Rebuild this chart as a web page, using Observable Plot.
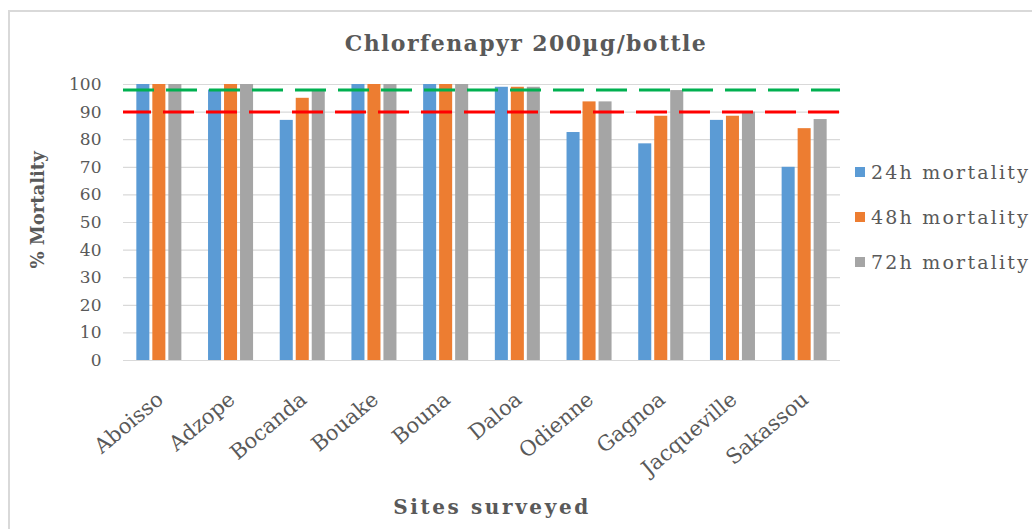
<!DOCTYPE html>
<html>
<head>
<meta charset="utf-8">
<script src="https://cdn.jsdelivr.net/npm/d3@7"></script>
<script src="https://cdn.jsdelivr.net/npm/@observablehq/plot@0.6"></script>
<style>
  html, body { margin: 0; padding: 0; background: #fff; }
  #wrap { position: relative; width: 1032px; height: 529px; overflow: hidden; font-family: "DejaVu Serif", serif; color: #595959; }
  #border { position: absolute; left: 8px; top: 10px; width: 1040px; height: 540px; border: 2px solid #d9d9d9; box-sizing: border-box; }
  #chart { position: absolute; left: 0; top: 0; }
  .abs { position: absolute; white-space: nowrap; }
  #title { left: 0; width: 1052px; top: 30px; text-align: center; font-size: 22px; font-weight: bold; letter-spacing: 1.4px; }
  #xtitle { left: 372px; width: 240px; top: 495px; text-align: center; font-size: 20px; font-weight: bold; letter-spacing: 2.6px; }
  #ytitle { left: 37px; top: 210px; transform: translate(-50%, -50%) rotate(-90deg); font-size: 18px; font-weight: bold; }
  .leg { left: 855px; font-size: 19px; letter-spacing: 2.2px; display: flex; align-items: center; }
  .sw { width: 10px; height: 10px; margin-right: 6px; display: inline-block; }
</style>
</head>
<body>
<div id="wrap">
  <div id="border"></div>
  <div id="chart"></div>
  <div id="title" class="abs">Chlorfenapyr 200µg/bottle</div>
  <div id="xtitle" class="abs">Sites surveyed</div>
  <div id="ytitle" class="abs">% Mortality</div>
  <div id="legend"></div>
</div>
<script>
const sites = ["Aboisso", "Adzope", "Bocanda", "Bouake", "Bouna", "Daloa", "Odienne", "Gagnoa", "Jacqueville", "Sakassou"];
const seriesNames = ["24h mortality", "48h mortality", "72h mortality"];
const mortality24h = [100, 98, 87, 100, 100, 99, 82.6, 78.5, 87, 70];
const mortality48h = [100, 100, 95, 100, 100, 99, 93.7, 88.5, 88.5, 84];
const mortality72h = [100, 100, 98, 100, 100, 99, 93.7, 97.8, 90, 87.3];
const seriesColors = ["#5b9bd5", "#ed7d31", "#a5a5a5"];
const yTicks = [0, 10, 20, 30, 40, 50, 60, 70, 80, 90, 100];
const thresholdGreen = [98];
const thresholdRed = [90];

const seriesValues = [mortality24h, mortality48h, mortality72h];

// each site's band holds the three bars side by side: bar width 13, step 16
const barW = 13, barStep = 16;
const groupW = barW + 2 * barStep; // band width
const barMarks = seriesValues.map((vals, j) =>
  Plot.barY(sites.map((site, i) => ({site, value: vals[i]})), {
    x: "site",
    y: "value",
    fill: seriesColors[j],
    insetLeft: j * barStep,
    insetRight: groupW - j * barStep - barW
  })
);

const chart = Plot.plot({
  width: 1032,
  height: 529,
  marginLeft: 123,
  marginRight: 192,
  marginTop: 84,
  marginBottom: 169,
  style: {fontFamily: "DejaVu Serif", fontSize: "17px", color: "#595959", background: "transparent", overflow: "visible"},
  x: {domain: sites, paddingInner: 0.372, paddingOuter: 0.186, round: false, label: null},
  y: {domain: [0, 100], label: null},
  marks: [
    Plot.ruleY(yTicks, {stroke: "#d9d9d9", strokeWidth: 1.2}),
    Plot.axisY({ticks: yTicks, tickSize: 0, tickPadding: 22, label: null, fontSize: 17, letterSpacing: 2.5}),
    ...barMarks,
    Plot.ruleY(thresholdGreen, {stroke: "#00b050", strokeWidth: 3, strokeDasharray: "31,12"}),
    Plot.ruleY(thresholdRed, {stroke: "#ff0000", strokeWidth: 3, strokeDasharray: "31,12", strokeDashoffset: 3}),
    Plot.axisX({tickRotate: -40, tickSize: 0, tickPadding: 36, dx: 1, fontSize: 21, letterSpacing: 1.6, label: null})
  ]
});
document.getElementById("chart").appendChild(chart);

const legend = document.getElementById("legend");
const legY = [172, 217, 262];
seriesNames.forEach((s, i) => {
  const d = document.createElement("div");
  d.className = "abs leg";
  d.style.top = (legY[i] - 12) + "px";
  d.style.height = "24px";
  d.innerHTML = `<span class="sw" style="background:${seriesColors[i]}"></span><span>${s}</span>`;
  legend.appendChild(d);
});
</script>
</body>
</html>
